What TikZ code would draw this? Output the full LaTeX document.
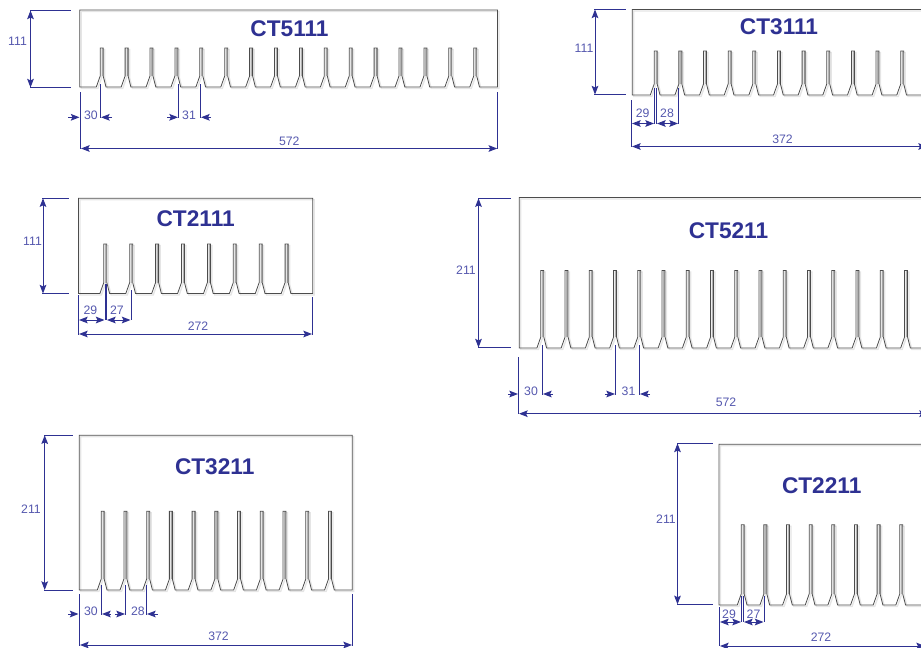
\documentclass[tikz,border=0pt]{standalone}
\usepackage{fontspec}
\setmainfont{Liberation Sans}
\usetikzlibrary{arrows.meta}
\definecolor{dimblue}{HTML}{2E3192}
\definecolor{labelblue}{HTML}{5558AE}
\tikzset{
	plateline/.style={draw=black!70, line width=0.6pt, line join=miter},
	plateshadow/.style={draw=black!10, line width=1pt, shift={(1.5,1.5)}},
	ribcore/.style={draw=black!30, line width=0.9pt},
	dimline/.style={draw=dimblue, line width=0.75pt},
	dimarrow/.style={dimline, -{Stealth[length=6.5pt, width=5pt, inset=1.2pt]}},
	dimboth/.style={dimline, {Stealth[length=6.5pt, width=5pt, inset=1.2pt]}-{Stealth[length=6.5pt, width=5pt, inset=1.2pt]}},
	dimlabel/.style={text=labelblue, inner sep=0pt, font=\fontsize{9.2}{11}\selectfont},
	platetitle/.style={text=dimblue, inner sep=0pt, font=\fontsize{17}{19}\selectfont\bfseries}
}
% left, top, right, bottom, rib top, first rib, pitch, last rib index
\newcommand{\ribplate}[8]{
	\draw[plateshadow] (#3,#2)--(#1,#2)--(#1,#4)
		\foreach \k [evaluate=\k as \fx using #6+\k*#7] in {0,...,#8} {
			--(\fx-5.4,#4)--(\fx-1.5,#4-11)--(\fx-1.5,#5)--(\fx+1.5,#5)--(\fx+1.5,#4-11)--(\fx+4.3,#4)
		} --(#3,#4)--cycle;
	\foreach \k [evaluate=\k as \fx using #6+\k*#7] in {0,...,#8} {
		\draw[ribcore] (\fx+0.5,#5)--(\fx+0.5,#4-11);
	}
	\draw[plateline] (#3,#2)--(#1,#2)--(#1,#4)
		\foreach \k [evaluate=\k as \fx using #6+\k*#7] in {0,...,#8} {
			--(\fx-5.4,#4)--(\fx-1.5,#4-11)--(\fx-1.5,#5)--(\fx+1.5,#5)--(\fx+1.5,#4-11)--(\fx+4.3,#4)
		} --(#3,#4)--cycle;
}
\begin{document}
\begin{tikzpicture}[x=0.75pt, y=-0.75pt]
	\path[use as bounding box, clip] (0,0) rectangle (921,647);

	% CT5111
	\ribplate{79.7}{10}{497.5}{87}{48}{101.7}{24.9}{15}
	\node[platetitle] (t5111) at (289.5,29) {CT5111};
	\draw[dimline] (30,10.5)--(71,10.5);
	\draw[dimline] (30,87.5)--(71,87.5);
	\draw[dimboth] (30.5,10.5)--(30.5,87.5);
	\node[dimlabel] (h5111) at (17.5,41.5) {111};
	\draw[dimline] (80.5,92)--(80.5,149);
	\draw[dimline] (497.7,92)--(497.7,149);
	\draw[dimline] (100.5,84)--(100.5,117.5);
	\draw[dimline] (178.5,84)--(178.5,117.5);
	\draw[dimline] (200.5,84)--(200.5,117.5);
	\draw[dimarrow] (68,117.3)--(79.5,117.3);
	\draw[dimarrow] (112,117.3)--(101,117.3);
	\draw[dimarrow] (167,117.3)--(178,117.3);
	\draw[dimarrow] (211,117.3)--(201,117.3);
	\draw[dimboth] (81,148.5)--(497.2,148.5);
	\node[dimlabel] (a5111) at (91,115) {30};
	\node[dimlabel] (b5111) at (189,115) {31};
	\node[dimlabel] (w5111) at (289.3,141) {572};

	% CT3111
	\ribplate{632.3}{9.5}{940}{95}{51}{655.7}{24.65}{10}
	\node[platetitle] (t3111) at (779,27) {CT3111};
	\draw[dimline] (594,9.5)--(626,9.5);
	\draw[dimline] (594,94.5)--(626,94.5);
	\draw[dimboth] (595,9.5)--(595,94.5);
	\node[dimlabel] (h3111) at (584,48.5) {111};
	\draw[dimline] (631.5,100)--(631.5,147);
	\draw[dimline] (654.5,88)--(654.5,124);
	\draw[dimline] (656.5,88)--(656.5,124);
	\draw[dimline] (678.5,88)--(678.5,124);
	\draw[dimboth] (632,123.5)--(654,123.5);
	\draw[dimboth] (657,123.5)--(678,123.5);
	\draw[dimboth] (632,146.5)--(927,146.5);
	\node[dimlabel] (a3111) at (642.7,113) {29};
	\node[dimlabel] (b3111) at (667,113) {28};
	\node[dimlabel] (w3111) at (782.5,139) {372};

	% CT2111
	\ribplate{78.5}{198.3}{312.7}{293.5}{244}{105.3}{25.9}{7}
	\node[platetitle] (t2111) at (195.7,218.7) {CT2111};
	\draw[dimline] (42,198.3)--(68.5,198.3);
	\draw[dimline] (42,293.5)--(68.5,293.5);
	\draw[dimboth] (43,198.3)--(43,293.5);
	\node[dimlabel] (h2111) at (32.5,241.7) {111};
	\draw[dimline] (78.5,295)--(78.5,335);
	\draw[dimline] (312.5,297)--(312.5,335);
	\draw[dimline] (105,284)--(105,320);
	\draw[dimline] (106.5,284)--(106.5,320);
	\draw[dimline] (131,290)--(131,320);
	\draw[dimboth] (79,320)--(104.5,320);
	\draw[dimboth] (107,320)--(130.5,320);
	\draw[dimboth] (79,334)--(312,334);
	\node[dimlabel] (a2111) at (90.5,310) {29};
	\node[dimlabel] (b2111) at (117,310) {27};
	\node[dimlabel] (w2111) at (198,326.5) {272};

	% CT5211
	\ribplate{519.3}{197.5}{940}{348}{270.5}{542.3}{24.25}{15}
	\node[platetitle] (t5211) at (728.5,230.5) {CT5211};
	\draw[dimline] (478,198.3)--(511,198.3);
	\draw[dimline] (478,347.5)--(511,347.5);
	\draw[dimboth] (478.5,198.3)--(478.5,347.5);
	\node[dimlabel] (h5211) at (466,270) {211};
	\draw[dimline] (518.5,357)--(518.5,414);
	\draw[dimline] (542.3,345)--(542.3,394.5);
	\draw[dimline] (615.5,345)--(615.5,394.5);
	\draw[dimline] (639.5,345)--(639.5,394.5);
	\draw[dimarrow] (508,394)--(518,394);
	\draw[dimarrow] (553,394)--(543,394);
	\draw[dimarrow] (605,394)--(615,394);
	\draw[dimarrow] (650,394)--(640,394);
	\draw[dimboth] (519,413.7)--(928,413.7);
	\node[dimlabel] (a5211) at (531,391.5) {30};
	\node[dimlabel] (b5211) at (628.5,391.5) {31};
	\node[dimlabel] (w5211) at (726,402.5) {572};

	% CT3211
	\ribplate{79.3}{435.3}{352.3}{590}{511.3}{102.7}{22.73}{10}
	\node[platetitle] (t3211) at (214.7,466.5) {CT3211};
	\draw[dimline] (44,435.3)--(72.7,435.3);
	\draw[dimline] (44,590)--(72.7,590);
	\draw[dimboth] (44.7,435.3)--(44.7,590);
	\node[dimlabel] (h3211) at (31,509) {211};
	\draw[dimline] (79.3,594)--(79.3,645.5);
	\draw[dimline] (352.3,594)--(352.3,645.5);
	\draw[dimline] (101.3,585)--(101.3,614.5);
	\draw[dimline] (125.7,585)--(125.7,614.5);
	\draw[dimline] (146.3,585)--(146.3,614.5);
	\draw[dimarrow] (68,614)--(78.5,614);
	\draw[dimarrow] (110.5,614)--(102,614);
	\draw[dimarrow] (115,614)--(125,614);
	\draw[dimarrow] (157.5,614)--(147,614);
	\draw[dimboth] (80,645)--(352,645);
	\node[dimlabel] (a3211) at (91,611.7) {30};
	\node[dimlabel] (b3211) at (138,611.7) {28};
	\node[dimlabel] (w3211) at (218.5,636) {372};

	% CT2211
	\ribplate{719}{444.3}{940}{605}{524.7}{742.7}{22.65}{7}
	\node[platetitle] (t2211) at (821.7,485.5) {CT2211};
	\draw[dimline] (677,443.5)--(713,443.5);
	\draw[dimline] (677,604.3)--(713,604.3);
	\draw[dimboth] (677.5,443.5)--(677.5,604.3);
	\node[dimlabel] (h2211) at (666,519.5) {211};
	\draw[dimline] (719.3,607)--(719.3,646);
	\draw[dimline] (741.5,596)--(741.5,622);
	\draw[dimline] (743.5,596)--(743.5,622);
	\draw[dimline] (764,596)--(764,622);
	\draw[dimboth] (720,622)--(741,622);
	\draw[dimboth] (744,622)--(763.5,622);
	\draw[dimboth] (720,646)--(925,646);
	\node[dimlabel] (a2211) at (729,614) {29};
	\node[dimlabel] (b2211) at (753.5,614) {27};
	\node[dimlabel] (w2211) at (821,637.5) {272};
\end{tikzpicture}
\end{document}
